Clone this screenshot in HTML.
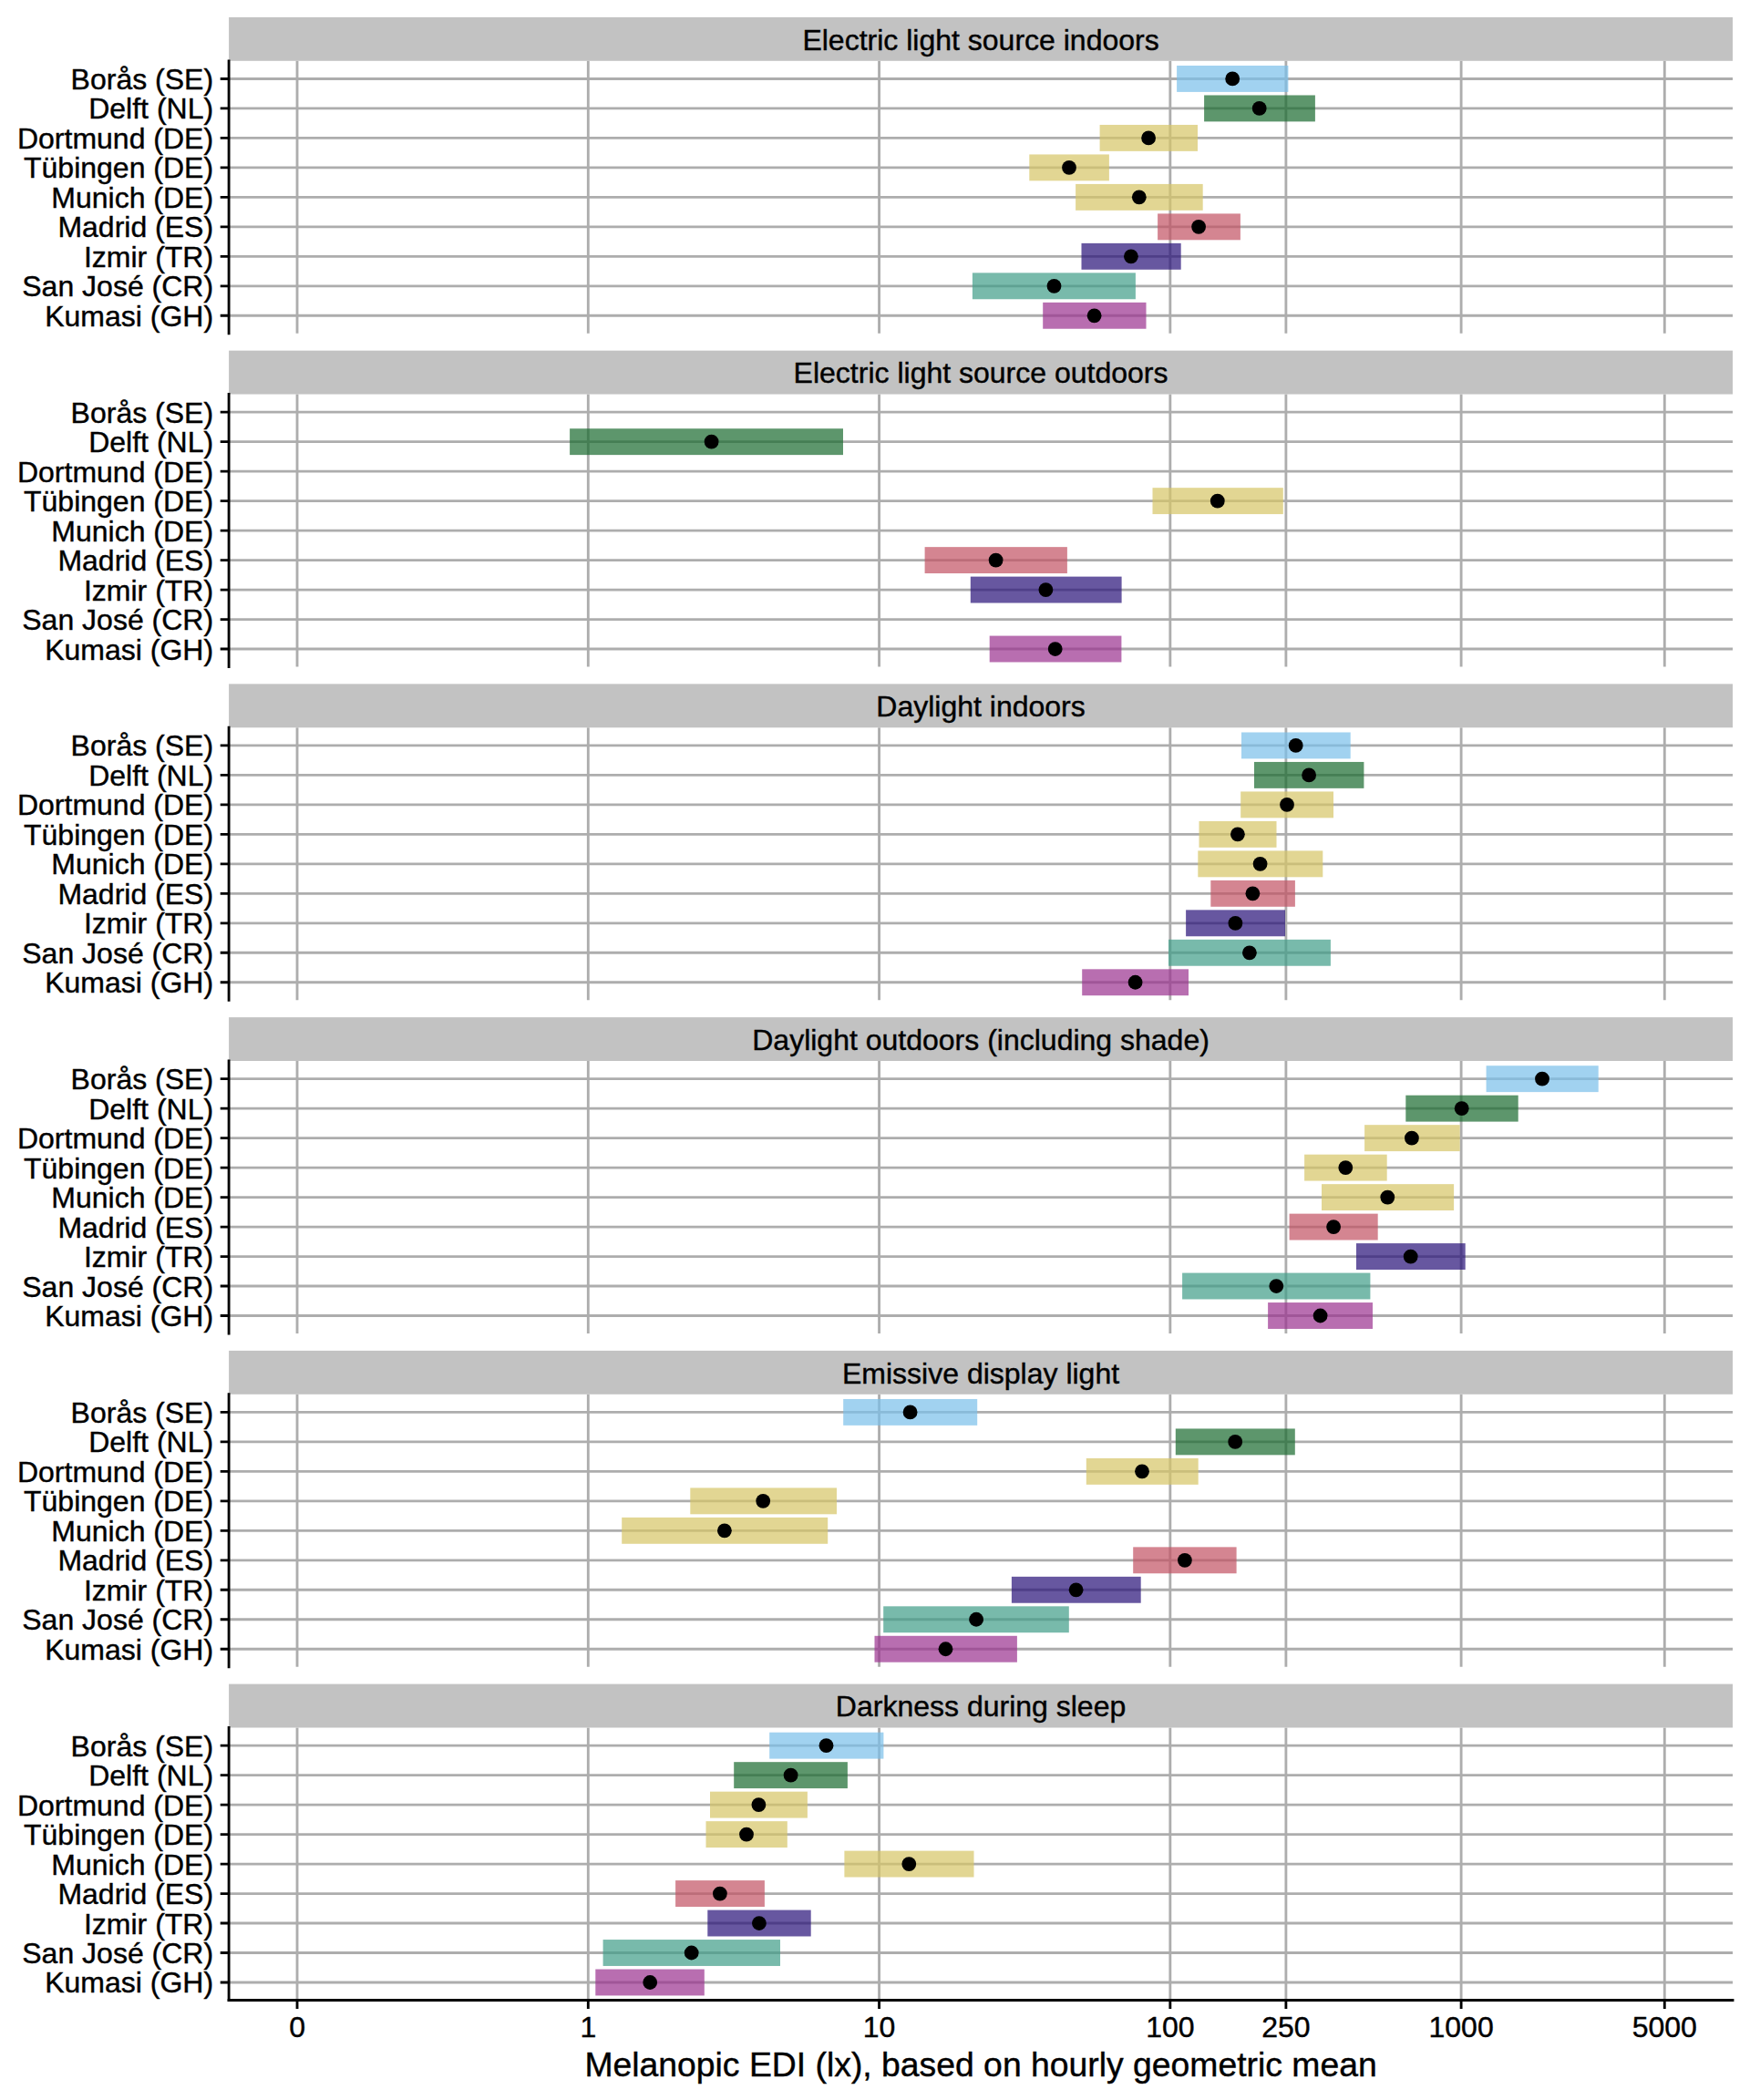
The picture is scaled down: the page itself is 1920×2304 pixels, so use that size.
<!DOCTYPE html>
<html lang="en"><head><meta charset="utf-8"><title>Melanopic EDI by site</title>
<style>html,body{margin:0;padding:0;background:#fff}body{width:1920px;height:2304px;overflow:hidden}svg{display:block}text{font-family:"Liberation Sans",Arial,Helvetica,sans-serif;fill:#000;stroke:#000;stroke-width:.4px}.a{font-size:32px}.t{font-size:37.33px}</style></head><body>
<svg width="1920" height="2304" viewBox="0 0 1920 2304">
<rect width="1920" height="2304" fill="#fff"/>
<g>
<path d="M326.03 66.80V365.80M645.30 66.80V365.80M964.57 66.80V365.80M1283.84 66.80V365.80M1410.89 66.80V365.80M1603.11 66.80V365.80M1826.27 66.80V365.80M251.10 86.45H1901.00M251.10 118.93H1901.00M251.10 151.41H1901.00M251.10 183.89H1901.00M251.10 216.37H1901.00M251.10 248.85H1901.00M251.10 281.33H1901.00M251.10 313.81H1901.00M251.10 346.29H1901.00" stroke="#adadad" stroke-width="2.85" fill="none"/>
<rect x="1291.10" y="72.00" width="122.30" height="28.90" fill="#79bfea" fill-opacity="0.7"/>
<rect x="1321.10" y="104.48" width="121.80" height="28.90" fill="#18692d" fill-opacity="0.7"/>
<rect x="1206.60" y="136.96" width="107.40" height="28.90" fill="#d6c465" fill-opacity="0.7"/>
<rect x="1129.30" y="169.44" width="87.60" height="28.90" fill="#d6c465" fill-opacity="0.7"/>
<rect x="1180.10" y="201.92" width="139.60" height="28.90" fill="#d6c465" fill-opacity="0.7"/>
<rect x="1270.10" y="234.40" width="90.80" height="28.90" fill="#c25163" fill-opacity="0.7"/>
<rect x="1186.50" y="266.88" width="109.20" height="28.90" fill="#271077" fill-opacity="0.7"/>
<rect x="1066.90" y="299.36" width="179.00" height="28.90" fill="#3e9c88" fill-opacity="0.7"/>
<rect x="1144.20" y="331.84" width="113.30" height="28.90" fill="#9a308e" fill-opacity="0.7"/>
<circle cx="1352.20" cy="86.45" r="7.9"/>
<circle cx="1381.70" cy="118.93" r="7.9"/>
<circle cx="1260.10" cy="151.41" r="7.9"/>
<circle cx="1173.00" cy="183.89" r="7.9"/>
<circle cx="1249.80" cy="216.37" r="7.9"/>
<circle cx="1315.10" cy="248.85" r="7.9"/>
<circle cx="1240.90" cy="281.33" r="7.9"/>
<circle cx="1156.50" cy="313.81" r="7.9"/>
<circle cx="1200.60" cy="346.29" r="7.9"/>
<rect x="251.10" y="18.90" width="1649.90" height="47.90" fill="#c2c2c2"/>
<text class="a" x="1076.05" y="54.70" text-anchor="middle">Electric light source indoors</text>
<path d="M251.10 66.80V365.80" stroke="#000" stroke-width="2.85" stroke-linecap="square" fill="none"/>
<path d="M241.70 86.45H251.10M241.70 118.93H251.10M241.70 151.41H251.10M241.70 183.89H251.10M241.70 216.37H251.10M241.70 248.85H251.10M241.70 281.33H251.10M241.70 313.81H251.10M241.70 346.29H251.10" stroke="#000" stroke-width="2.85" fill="none"/>
<text class="a" x="234.1" y="97.95" text-anchor="end">Borås (SE)</text>
<text class="a" x="234.1" y="130.43" text-anchor="end">Delft (NL)</text>
<text class="a" x="234.1" y="162.91" text-anchor="end">Dortmund (DE)</text>
<text class="a" x="234.1" y="195.39" text-anchor="end">Tübingen (DE)</text>
<text class="a" x="234.1" y="227.87" text-anchor="end">Munich (DE)</text>
<text class="a" x="234.1" y="260.35" text-anchor="end">Madrid (ES)</text>
<text class="a" x="234.1" y="292.83" text-anchor="end">Izmir (TR)</text>
<text class="a" x="234.1" y="325.31" text-anchor="end">San José (CR)</text>
<text class="a" x="234.1" y="357.79" text-anchor="end">Kumasi (GH)</text>
</g>
<g>
<path d="M326.03 432.54V731.54M645.30 432.54V731.54M964.57 432.54V731.54M1283.84 432.54V731.54M1410.89 432.54V731.54M1603.11 432.54V731.54M1826.27 432.54V731.54M251.10 452.19H1901.00M251.10 484.67H1901.00M251.10 517.15H1901.00M251.10 549.63H1901.00M251.10 582.11H1901.00M251.10 614.59H1901.00M251.10 647.07H1901.00M251.10 679.55H1901.00M251.10 712.03H1901.00" stroke="#adadad" stroke-width="2.85" fill="none"/>
<rect x="625.10" y="470.22" width="299.90" height="28.90" fill="#18692d" fill-opacity="0.7"/>
<rect x="1264.50" y="535.18" width="143.30" height="28.90" fill="#d6c465" fill-opacity="0.7"/>
<rect x="1014.60" y="600.14" width="156.30" height="28.90" fill="#c25163" fill-opacity="0.7"/>
<rect x="1064.80" y="632.62" width="165.80" height="28.90" fill="#271077" fill-opacity="0.7"/>
<rect x="1085.70" y="697.58" width="144.70" height="28.90" fill="#9a308e" fill-opacity="0.7"/>
<circle cx="780.60" cy="484.67" r="7.9"/>
<circle cx="1335.80" cy="549.63" r="7.9"/>
<circle cx="1092.60" cy="614.59" r="7.9"/>
<circle cx="1147.40" cy="647.07" r="7.9"/>
<circle cx="1157.70" cy="712.03" r="7.9"/>
<rect x="251.10" y="384.64" width="1649.90" height="47.90" fill="#c2c2c2"/>
<text class="a" x="1076.05" y="420.44" text-anchor="middle">Electric light source outdoors</text>
<path d="M251.10 432.54V731.54" stroke="#000" stroke-width="2.85" stroke-linecap="square" fill="none"/>
<path d="M241.70 452.19H251.10M241.70 484.67H251.10M241.70 517.15H251.10M241.70 549.63H251.10M241.70 582.11H251.10M241.70 614.59H251.10M241.70 647.07H251.10M241.70 679.55H251.10M241.70 712.03H251.10" stroke="#000" stroke-width="2.85" fill="none"/>
<text class="a" x="234.1" y="463.69" text-anchor="end">Borås (SE)</text>
<text class="a" x="234.1" y="496.17" text-anchor="end">Delft (NL)</text>
<text class="a" x="234.1" y="528.65" text-anchor="end">Dortmund (DE)</text>
<text class="a" x="234.1" y="561.13" text-anchor="end">Tübingen (DE)</text>
<text class="a" x="234.1" y="593.61" text-anchor="end">Munich (DE)</text>
<text class="a" x="234.1" y="626.09" text-anchor="end">Madrid (ES)</text>
<text class="a" x="234.1" y="658.57" text-anchor="end">Izmir (TR)</text>
<text class="a" x="234.1" y="691.05" text-anchor="end">San José (CR)</text>
<text class="a" x="234.1" y="723.53" text-anchor="end">Kumasi (GH)</text>
</g>
<g>
<path d="M326.03 798.28V1097.28M645.30 798.28V1097.28M964.57 798.28V1097.28M1283.84 798.28V1097.28M1410.89 798.28V1097.28M1603.11 798.28V1097.28M1826.27 798.28V1097.28M251.10 817.93H1901.00M251.10 850.41H1901.00M251.10 882.89H1901.00M251.10 915.37H1901.00M251.10 947.85H1901.00M251.10 980.33H1901.00M251.10 1012.81H1901.00M251.10 1045.29H1901.00M251.10 1077.77H1901.00" stroke="#adadad" stroke-width="2.85" fill="none"/>
<rect x="1362.00" y="803.48" width="119.70" height="28.90" fill="#79bfea" fill-opacity="0.7"/>
<rect x="1376.00" y="835.96" width="120.40" height="28.90" fill="#18692d" fill-opacity="0.7"/>
<rect x="1361.20" y="868.44" width="101.80" height="28.90" fill="#d6c465" fill-opacity="0.7"/>
<rect x="1315.50" y="900.92" width="85.00" height="28.90" fill="#d6c465" fill-opacity="0.7"/>
<rect x="1314.30" y="933.40" width="137.00" height="28.90" fill="#d6c465" fill-opacity="0.7"/>
<rect x="1328.30" y="965.88" width="92.60" height="28.90" fill="#c25163" fill-opacity="0.7"/>
<rect x="1301.10" y="998.36" width="108.90" height="28.90" fill="#271077" fill-opacity="0.7"/>
<rect x="1282.00" y="1030.84" width="177.90" height="28.90" fill="#3e9c88" fill-opacity="0.7"/>
<rect x="1187.20" y="1063.32" width="116.80" height="28.90" fill="#9a308e" fill-opacity="0.7"/>
<circle cx="1421.70" cy="817.93" r="7.9"/>
<circle cx="1436.10" cy="850.41" r="7.9"/>
<circle cx="1412.00" cy="882.89" r="7.9"/>
<circle cx="1357.90" cy="915.37" r="7.9"/>
<circle cx="1382.60" cy="947.85" r="7.9"/>
<circle cx="1374.40" cy="980.33" r="7.9"/>
<circle cx="1355.40" cy="1012.81" r="7.9"/>
<circle cx="1370.90" cy="1045.29" r="7.9"/>
<circle cx="1245.60" cy="1077.77" r="7.9"/>
<rect x="251.10" y="750.38" width="1649.90" height="47.90" fill="#c2c2c2"/>
<text class="a" x="1076.05" y="786.18" text-anchor="middle">Daylight indoors</text>
<path d="M251.10 798.28V1097.28" stroke="#000" stroke-width="2.85" stroke-linecap="square" fill="none"/>
<path d="M241.70 817.93H251.10M241.70 850.41H251.10M241.70 882.89H251.10M241.70 915.37H251.10M241.70 947.85H251.10M241.70 980.33H251.10M241.70 1012.81H251.10M241.70 1045.29H251.10M241.70 1077.77H251.10" stroke="#000" stroke-width="2.85" fill="none"/>
<text class="a" x="234.1" y="829.43" text-anchor="end">Borås (SE)</text>
<text class="a" x="234.1" y="861.91" text-anchor="end">Delft (NL)</text>
<text class="a" x="234.1" y="894.39" text-anchor="end">Dortmund (DE)</text>
<text class="a" x="234.1" y="926.87" text-anchor="end">Tübingen (DE)</text>
<text class="a" x="234.1" y="959.35" text-anchor="end">Munich (DE)</text>
<text class="a" x="234.1" y="991.83" text-anchor="end">Madrid (ES)</text>
<text class="a" x="234.1" y="1024.31" text-anchor="end">Izmir (TR)</text>
<text class="a" x="234.1" y="1056.79" text-anchor="end">San José (CR)</text>
<text class="a" x="234.1" y="1089.27" text-anchor="end">Kumasi (GH)</text>
</g>
<g>
<path d="M326.03 1164.02V1463.02M645.30 1164.02V1463.02M964.57 1164.02V1463.02M1283.84 1164.02V1463.02M1410.89 1164.02V1463.02M1603.11 1164.02V1463.02M1826.27 1164.02V1463.02M251.10 1183.67H1901.00M251.10 1216.15H1901.00M251.10 1248.63H1901.00M251.10 1281.11H1901.00M251.10 1313.59H1901.00M251.10 1346.07H1901.00M251.10 1378.55H1901.00M251.10 1411.03H1901.00M251.10 1443.51H1901.00" stroke="#adadad" stroke-width="2.85" fill="none"/>
<rect x="1630.60" y="1169.22" width="123.10" height="28.90" fill="#79bfea" fill-opacity="0.7"/>
<rect x="1542.30" y="1201.70" width="123.40" height="28.90" fill="#18692d" fill-opacity="0.7"/>
<rect x="1497.10" y="1234.18" width="104.60" height="28.90" fill="#d6c465" fill-opacity="0.7"/>
<rect x="1431.10" y="1266.66" width="90.60" height="28.90" fill="#d6c465" fill-opacity="0.7"/>
<rect x="1450.00" y="1299.14" width="145.10" height="28.90" fill="#d6c465" fill-opacity="0.7"/>
<rect x="1414.60" y="1331.62" width="97.10" height="28.90" fill="#c25163" fill-opacity="0.7"/>
<rect x="1488.00" y="1364.10" width="119.70" height="28.90" fill="#271077" fill-opacity="0.7"/>
<rect x="1297.10" y="1396.58" width="206.30" height="28.90" fill="#3e9c88" fill-opacity="0.7"/>
<rect x="1391.10" y="1429.06" width="114.90" height="28.90" fill="#9a308e" fill-opacity="0.7"/>
<circle cx="1692.00" cy="1183.67" r="7.9"/>
<circle cx="1603.70" cy="1216.15" r="7.9"/>
<circle cx="1548.90" cy="1248.63" r="7.9"/>
<circle cx="1476.30" cy="1281.11" r="7.9"/>
<circle cx="1522.30" cy="1313.59" r="7.9"/>
<circle cx="1463.10" cy="1346.07" r="7.9"/>
<circle cx="1547.70" cy="1378.55" r="7.9"/>
<circle cx="1400.30" cy="1411.03" r="7.9"/>
<circle cx="1448.60" cy="1443.51" r="7.9"/>
<rect x="251.10" y="1116.12" width="1649.90" height="47.90" fill="#c2c2c2"/>
<text class="a" x="1076.05" y="1151.92" text-anchor="middle">Daylight outdoors (including shade)</text>
<path d="M251.10 1164.02V1463.02" stroke="#000" stroke-width="2.85" stroke-linecap="square" fill="none"/>
<path d="M241.70 1183.67H251.10M241.70 1216.15H251.10M241.70 1248.63H251.10M241.70 1281.11H251.10M241.70 1313.59H251.10M241.70 1346.07H251.10M241.70 1378.55H251.10M241.70 1411.03H251.10M241.70 1443.51H251.10" stroke="#000" stroke-width="2.85" fill="none"/>
<text class="a" x="234.1" y="1195.17" text-anchor="end">Borås (SE)</text>
<text class="a" x="234.1" y="1227.65" text-anchor="end">Delft (NL)</text>
<text class="a" x="234.1" y="1260.13" text-anchor="end">Dortmund (DE)</text>
<text class="a" x="234.1" y="1292.61" text-anchor="end">Tübingen (DE)</text>
<text class="a" x="234.1" y="1325.09" text-anchor="end">Munich (DE)</text>
<text class="a" x="234.1" y="1357.57" text-anchor="end">Madrid (ES)</text>
<text class="a" x="234.1" y="1390.05" text-anchor="end">Izmir (TR)</text>
<text class="a" x="234.1" y="1422.53" text-anchor="end">San José (CR)</text>
<text class="a" x="234.1" y="1455.01" text-anchor="end">Kumasi (GH)</text>
</g>
<g>
<path d="M326.03 1529.76V1828.76M645.30 1529.76V1828.76M964.57 1529.76V1828.76M1283.84 1529.76V1828.76M1410.89 1529.76V1828.76M1603.11 1529.76V1828.76M1826.27 1529.76V1828.76M251.10 1549.41H1901.00M251.10 1581.89H1901.00M251.10 1614.37H1901.00M251.10 1646.85H1901.00M251.10 1679.33H1901.00M251.10 1711.81H1901.00M251.10 1744.29H1901.00M251.10 1776.77H1901.00M251.10 1809.25H1901.00" stroke="#adadad" stroke-width="2.85" fill="none"/>
<rect x="925.20" y="1534.96" width="147.00" height="28.90" fill="#79bfea" fill-opacity="0.7"/>
<rect x="1289.80" y="1567.44" width="131.00" height="28.90" fill="#18692d" fill-opacity="0.7"/>
<rect x="1191.80" y="1599.92" width="122.90" height="28.90" fill="#d6c465" fill-opacity="0.7"/>
<rect x="757.30" y="1632.40" width="160.70" height="28.90" fill="#d6c465" fill-opacity="0.7"/>
<rect x="682.20" y="1664.88" width="226.00" height="28.90" fill="#d6c465" fill-opacity="0.7"/>
<rect x="1243.20" y="1697.36" width="113.40" height="28.90" fill="#c25163" fill-opacity="0.7"/>
<rect x="1109.90" y="1729.84" width="141.80" height="28.90" fill="#271077" fill-opacity="0.7"/>
<rect x="969.20" y="1762.32" width="203.60" height="28.90" fill="#3e9c88" fill-opacity="0.7"/>
<rect x="959.50" y="1794.80" width="156.40" height="28.90" fill="#9a308e" fill-opacity="0.7"/>
<circle cx="998.60" cy="1549.41" r="7.9"/>
<circle cx="1355.20" cy="1581.89" r="7.9"/>
<circle cx="1253.00" cy="1614.37" r="7.9"/>
<circle cx="837.20" cy="1646.85" r="7.9"/>
<circle cx="794.90" cy="1679.33" r="7.9"/>
<circle cx="1299.90" cy="1711.81" r="7.9"/>
<circle cx="1180.60" cy="1744.29" r="7.9"/>
<circle cx="1071.10" cy="1776.77" r="7.9"/>
<circle cx="1037.50" cy="1809.25" r="7.9"/>
<rect x="251.10" y="1481.86" width="1649.90" height="47.90" fill="#c2c2c2"/>
<text class="a" x="1076.05" y="1517.66" text-anchor="middle">Emissive display light</text>
<path d="M251.10 1529.76V1828.76" stroke="#000" stroke-width="2.85" stroke-linecap="square" fill="none"/>
<path d="M241.70 1549.41H251.10M241.70 1581.89H251.10M241.70 1614.37H251.10M241.70 1646.85H251.10M241.70 1679.33H251.10M241.70 1711.81H251.10M241.70 1744.29H251.10M241.70 1776.77H251.10M241.70 1809.25H251.10" stroke="#000" stroke-width="2.85" fill="none"/>
<text class="a" x="234.1" y="1560.91" text-anchor="end">Borås (SE)</text>
<text class="a" x="234.1" y="1593.39" text-anchor="end">Delft (NL)</text>
<text class="a" x="234.1" y="1625.87" text-anchor="end">Dortmund (DE)</text>
<text class="a" x="234.1" y="1658.35" text-anchor="end">Tübingen (DE)</text>
<text class="a" x="234.1" y="1690.83" text-anchor="end">Munich (DE)</text>
<text class="a" x="234.1" y="1723.31" text-anchor="end">Madrid (ES)</text>
<text class="a" x="234.1" y="1755.79" text-anchor="end">Izmir (TR)</text>
<text class="a" x="234.1" y="1788.27" text-anchor="end">San José (CR)</text>
<text class="a" x="234.1" y="1820.75" text-anchor="end">Kumasi (GH)</text>
</g>
<g>
<path d="M326.03 1895.50V2194.50M645.30 1895.50V2194.50M964.57 1895.50V2194.50M1283.84 1895.50V2194.50M1410.89 1895.50V2194.50M1603.11 1895.50V2194.50M1826.27 1895.50V2194.50M251.10 1915.15H1901.00M251.10 1947.63H1901.00M251.10 1980.11H1901.00M251.10 2012.59H1901.00M251.10 2045.07H1901.00M251.10 2077.55H1901.00M251.10 2110.03H1901.00M251.10 2142.51H1901.00M251.10 2174.99H1901.00" stroke="#adadad" stroke-width="2.85" fill="none"/>
<rect x="844.20" y="1900.70" width="125.20" height="28.90" fill="#79bfea" fill-opacity="0.7"/>
<rect x="805.20" y="1933.18" width="124.70" height="28.90" fill="#18692d" fill-opacity="0.7"/>
<rect x="779.00" y="1965.66" width="106.90" height="28.90" fill="#d6c465" fill-opacity="0.7"/>
<rect x="774.50" y="1998.14" width="89.30" height="28.90" fill="#d6c465" fill-opacity="0.7"/>
<rect x="926.40" y="2030.62" width="142.10" height="28.90" fill="#d6c465" fill-opacity="0.7"/>
<rect x="741.10" y="2063.10" width="97.80" height="28.90" fill="#c25163" fill-opacity="0.7"/>
<rect x="776.30" y="2095.58" width="113.40" height="28.90" fill="#271077" fill-opacity="0.7"/>
<rect x="661.60" y="2128.06" width="194.40" height="28.90" fill="#3e9c88" fill-opacity="0.7"/>
<rect x="653.30" y="2160.54" width="119.50" height="28.90" fill="#9a308e" fill-opacity="0.7"/>
<circle cx="906.50" cy="1915.15" r="7.9"/>
<circle cx="867.60" cy="1947.63" r="7.9"/>
<circle cx="832.40" cy="1980.11" r="7.9"/>
<circle cx="819.00" cy="2012.59" r="7.9"/>
<circle cx="997.30" cy="2045.07" r="7.9"/>
<circle cx="789.90" cy="2077.55" r="7.9"/>
<circle cx="832.90" cy="2110.03" r="7.9"/>
<circle cx="758.70" cy="2142.51" r="7.9"/>
<circle cx="713.20" cy="2174.99" r="7.9"/>
<rect x="251.10" y="1847.60" width="1649.90" height="47.90" fill="#c2c2c2"/>
<text class="a" x="1076.05" y="1883.40" text-anchor="middle">Darkness during sleep</text>
<path d="M251.10 1895.50V2194.50" stroke="#000" stroke-width="2.85" stroke-linecap="square" fill="none"/>
<path d="M241.70 1915.15H251.10M241.70 1947.63H251.10M241.70 1980.11H251.10M241.70 2012.59H251.10M241.70 2045.07H251.10M241.70 2077.55H251.10M241.70 2110.03H251.10M241.70 2142.51H251.10M241.70 2174.99H251.10" stroke="#000" stroke-width="2.85" fill="none"/>
<text class="a" x="234.1" y="1926.65" text-anchor="end">Borås (SE)</text>
<text class="a" x="234.1" y="1959.13" text-anchor="end">Delft (NL)</text>
<text class="a" x="234.1" y="1991.61" text-anchor="end">Dortmund (DE)</text>
<text class="a" x="234.1" y="2024.09" text-anchor="end">Tübingen (DE)</text>
<text class="a" x="234.1" y="2056.57" text-anchor="end">Munich (DE)</text>
<text class="a" x="234.1" y="2089.05" text-anchor="end">Madrid (ES)</text>
<text class="a" x="234.1" y="2121.53" text-anchor="end">Izmir (TR)</text>
<text class="a" x="234.1" y="2154.01" text-anchor="end">San José (CR)</text>
<text class="a" x="234.1" y="2186.49" text-anchor="end">Kumasi (GH)</text>
</g>
<path d="M251.10 2194.50H1901.00" stroke="#000" stroke-width="2.85" stroke-linecap="square" fill="none"/>
<path d="M326.03 2194.50V2203.90M645.30 2194.50V2203.90M964.57 2194.50V2203.90M1283.84 2194.50V2203.90M1410.89 2194.50V2203.90M1603.11 2194.50V2203.90M1826.27 2194.50V2203.90" stroke="#000" stroke-width="2.85" fill="none"/>
<text class="a" x="326.03" y="2235.30" text-anchor="middle">0</text>
<text class="a" x="645.30" y="2235.30" text-anchor="middle">1</text>
<text class="a" x="964.57" y="2235.30" text-anchor="middle">10</text>
<text class="a" x="1283.84" y="2235.30" text-anchor="middle">100</text>
<text class="a" x="1410.89" y="2235.30" text-anchor="middle">250</text>
<text class="a" x="1603.11" y="2235.30" text-anchor="middle">1000</text>
<text class="a" x="1826.27" y="2235.30" text-anchor="middle">5000</text>
<text class="t" x="1076.05" y="2278.00" text-anchor="middle">Melanopic EDI (lx), based on hourly geometric mean</text>
</svg></body></html>
